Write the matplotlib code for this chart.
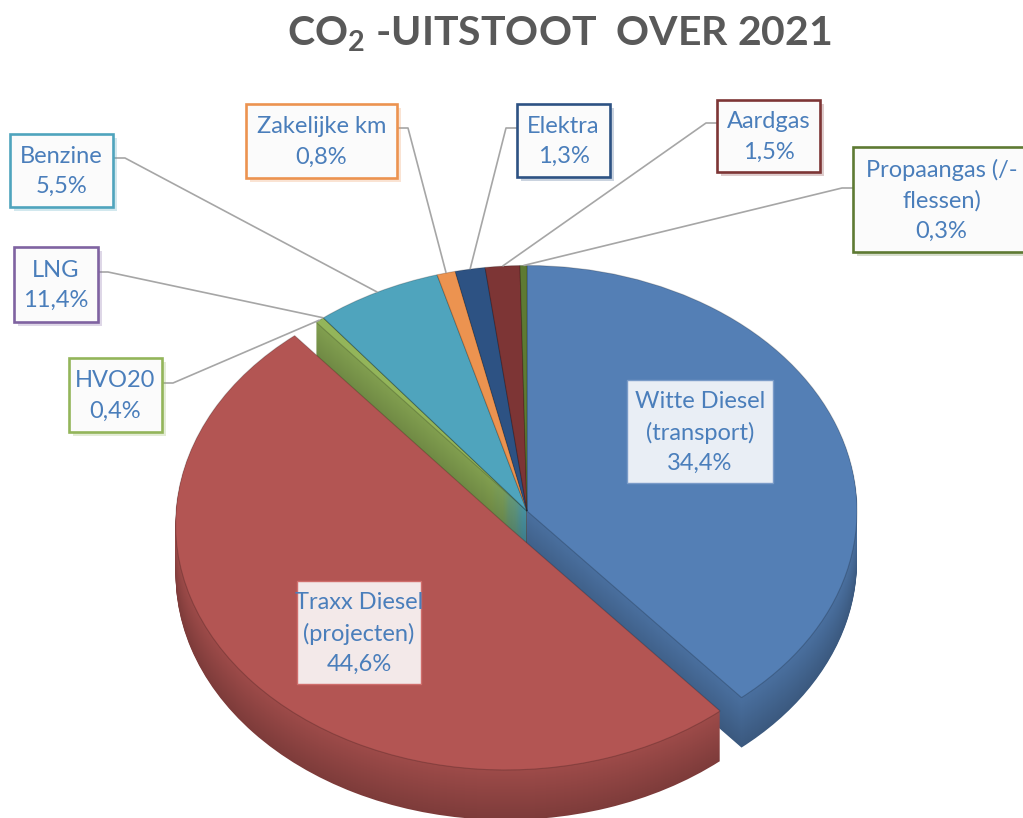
import numpy as np
import matplotlib
matplotlib.use('Agg')
import matplotlib.pyplot as plt
import matplotlib.patheffects as pe
from matplotlib.transforms import Affine2D
from matplotlib.patches import Rectangle
from matplotlib.colors import to_rgb

plt.rcParams['font.family'] = ['Lato', 'DejaVu Sans']
plt.rcParams['mathtext.fontset'] = 'custom'
plt.rcParams['mathtext.rm'] = 'Lato'
plt.rcParams['mathtext.bf'] = 'Lato:bold'

# data
categories = ['Witte Diesel\n(transport)', 'Traxx Diesel\n(projecten)', 'HVO20', 'LNG',
              'Benzine', 'Zakelijke km', 'Elektra', 'Aardgas', 'Propaangas (/-\nflessen)']
shares = [34.4, 44.6, 0.4, 11.4, 5.5, 0.8, 1.3, 1.5, 0.3]      # as printed in the labels
drawn = [34.4, 44.6, 0.4, 0.0, 5.5, 0.8, 1.3, 1.5, 0.3]        # slice sizes as seen (LNG slice has no width)
colors = ['#547FB5', '#B35553', '#93B55A', '#7F63A1', '#4FA4BD',
          '#EC9350', '#2D5283', '#7D3535', '#5E7A33']

W, H = 1023, 818
fig = plt.figure(figsize=(W / 100, H / 100), dpi=100)
ax = fig.add_axes([0, 0, 1, 1])

# pie geometry in pixels (y up)
CX, CY = 527, H - 511
R = 330
TILT = 0.744
DEPTH = 50
explode = [0, 28, 0, 0, 0, 0, 0, 0, 0]   # Traxx slice pulled out (pixels)
squash = Affine2D().scale(1, TILT)


def shade(c, f):
    r, g, b = to_rgb(c)
    return (r * f, g * f, b * f)


# side walls: stacked copies of the pie, darker towards the bottom
for k in range(DEPTH, 0, -1):
    f = 0.70 + 0.18 * (1 - k / DEPTH)
    wedges, _ = ax.pie(drawn, radius=R, center=(CX, (CY - k) / TILT), startangle=90,
                       counterclock=False, explode=explode,
                       colors=[shade(c, f) for c in colors],
                       wedgeprops=dict(linewidth=0))
    for w in wedges:
        w.set_transform(squash + ax.transData)

# top face
top, _ = ax.pie(drawn, radius=R, center=(CX, CY / TILT), startangle=90,
                counterclock=False, explode=explode, colors=colors,
                wedgeprops=dict(linewidth=0.8, edgecolor='#00000030'))
for w in top:
    w.set_transform(squash + ax.transData)

ax.set_aspect('auto')
ax.set_xlim(0, W)
ax.set_ylim(0, H)
ax.axis('off')

text_color = '#4A7EBB'

# label boxes (image pixels: x0, y0, x1, y1) and leader start / corner
boxes = {
    0: (627, 380, 773, 483),
    1: (297, 581, 421, 684),
    2: (69, 358, 162, 432),
    3: (14, 247, 98, 322),
    4: (10, 134, 113, 207),
    5: (246, 104, 397, 178),
    6: (517, 104, 610, 177),
    7: (717, 100, 820, 172),
    8: (853, 147, 1030, 252),
}
leaders = {
    2: ((162, 383), (173, 383)),
    3: ((98, 272), (108, 272)),
    4: ((113, 158), (125, 158)),
    5: ((397, 128), (408, 128)),
    6: ((517, 128), (506, 128)),
    7: ((717, 123), (706, 123)),
    8: ((853, 188), (842, 188)),
}
fills = {0: '#E9EEF5', 1: '#F3E9E9'}
edges = {0: '#7A9BC8', 1: '#CF6E6C'}

for i, (x0, y0, x1, y1) in boxes.items():
    fc = fills.get(i, '#FBFBFB')
    ec = edges.get(i, colors[i])
    lw = 1.0 if i in fills else 1.9
    rect = Rectangle((x0, H - y1), x1 - x0, y1 - y0, facecolor=fc, edgecolor=ec,
                     linewidth=lw, zorder=5)
    rect.set_path_effects([pe.SimplePatchShadow(offset=(3, -3), shadow_rgbFace=colors[i],
                                                alpha=0.25), pe.Normal()])
    ax.add_patch(rect)
    label = '%s\n%s%%' % (categories[i], ('%.1f' % shares[i]).replace('.', ','))
    ax.text((x0 + x1) / 2, H - (y0 + y1) / 2 - 1, label, ha='center', va='center',
            color=text_color, fontsize=17, linespacing=1.55, zorder=6)

for i, (start, corner) in leaders.items():
    w = top[i]
    th = np.deg2rad((w.theta1 + w.theta2) / 2)
    tx, ty = squash.transform((w.center[0] + w.r * np.cos(th), w.center[1] + w.r * np.sin(th)))
    ax.plot([start[0], corner[0], tx], [H - start[1], H - corner[1], ty],
            color='#A6A6A6', lw=1.2, zorder=4, solid_capstyle='butt')

ax.text(559, H - 45, r'CO$_\mathbf{2}$ -UITSTOOT  OVER 2021', ha='center', va='baseline',
        fontsize=29.5, fontweight='bold', color='#595959')

fig.savefig('out.png', dpi=100)
